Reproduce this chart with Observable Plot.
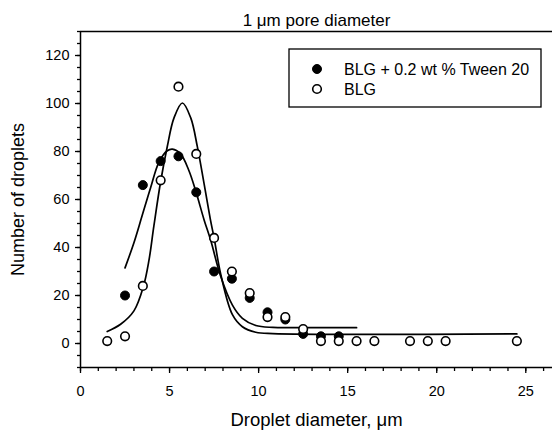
<!DOCTYPE html>
<html><head><meta charset="utf-8">
<script src="https://cdn.jsdelivr.net/npm/d3@7"></script>
<script src="https://cdn.jsdelivr.net/npm/@observablehq/plot@0.6"></script>
<style>body{margin:0;background:#fff}</style>
</head><body><div id="chart"></div>
<script>
const titleText = "1 \u03bcm pore diameter";
const xLabel = "Droplet diameter, \u03bcm";
const yLabel = "Number of droplets";
const seriesLabels = ["BLG + 0.2 wt % Tween 20", "BLG"];

const tweenX = [2.5, 3.5, 4.5, 5.5, 6.5, 7.5, 8.5, 9.5, 10.5, 11.5, 12.5, 13.5, 14.5];
const tweenY = [20, 66, 76, 78, 63, 30, 27, 19, 13, 10, 4, 3, 3];
const blgX = [1.5, 2.5, 3.5, 4.5, 5.5, 6.5, 7.5, 8.5, 9.5, 10.5, 11.5, 12.5, 13.5, 14.5, 15.5, 16.5, 18.5, 19.5, 20.5, 24.5];
const blgY = [1, 3, 24, 68, 107, 79, 44, 30, 21, 11, 11, 6, 1, 1, 1, 1, 1, 1, 1, 1];

const tweenFitX = [2.5, 3.0, 3.45, 3.94, 4.4, 4.87, 5.16, 5.62, 6.09, 6.47, 6.94, 7.31, 7.87, 8.53, 9.09, 9.84, 10.8, 12.0, 15.5];
const tweenFitY = [31.5, 42, 53, 65, 75.5, 80.3, 81, 79, 72, 63.5, 51.5, 43, 28, 16, 10.5, 7.5, 6.7, 6.6, 6.6];
const blgFitX = [1.5, 2.25, 3.0, 3.53, 3.84, 4.12, 4.5, 4.87, 5.25, 5.72, 6.19, 6.56, 6.94, 7.31, 7.5, 7.87, 8.53, 9.09, 9.84, 10.8, 24.5];
const blgFitY = [5, 8, 13.6, 23.7, 34.5, 49, 67.5, 82, 94, 100.2, 94, 82, 66.5, 51, 44, 29, 12, 7, 4.7, 4.1, 4.0];

const xTicks = [0, 5, 10, 15, 20, 25];
const yTicks = [0, 20, 40, 60, 80, 100, 120];
const xMinor = d3.range(0, 27, 1);
const yMinor = d3.range(-10, 131, 5);

const zip = (xs, ys) => xs.map((x, i) => ({x, y: ys[i]}));
const tween = zip(tweenX, tweenY);
const blg = zip(blgX, blgY);
const tweenFit = zip(tweenFitX, tweenFitY);
const blgFit = zip(blgFitX, blgFitY);

const font = "'Liberation Sans', Arial, sans-serif";

const chart = Plot.plot({
  width: 552,
  height: 432,
  marginLeft: 80,
  marginRight: 0,
  marginTop: 31,
  marginBottom: 65,
  style: {fontFamily: font, color: "#000", background: "#fff", overflow: "visible"},
  x: {domain: [0, 26.5], label: null},
  y: {domain: [-10, 130], label: null},
  marks: [
    Plot.axisX(xMinor, {tickSize: 4, tickFormat: () => "", strokeWidth: 1.3, label: null}),
    Plot.axisX(xTicks, {tickSize: 6, tickPadding: 12, fontSize: 14.5, strokeWidth: 1.3, label: null}),
    Plot.axisY(yMinor, {tickSize: 3, tickFormat: () => "", strokeWidth: 1.3, label: null}),
    Plot.axisY(yTicks, {tickSize: 5, tickPadding: 6, fontSize: 14.5, strokeWidth: 1.3, label: null}),
    Plot.ruleY([-10], {stroke: "#000", strokeWidth: 1.5}),
    Plot.ruleY([130], {stroke: "#000", strokeWidth: 1.5}),
    Plot.ruleX([0], {stroke: "#000", strokeWidth: 1.5}),
    Plot.line(tweenFit, {x: "x", y: "y", curve: "catmull-rom", stroke: "#000", strokeWidth: 1.7}),
    Plot.line(blgFit, {x: "x", y: "y", curve: "catmull-rom", stroke: "#000", strokeWidth: 1.7}),
    Plot.dot(tween, {x: "x", y: "y", r: 4.5, fill: "#000", stroke: "#000", strokeWidth: 1}),
    Plot.dot(blg, {x: "x", y: "y", r: 4.3, fill: "#fff", stroke: "#000", strokeWidth: 1.6}),
    Plot.text([titleText], {frameAnchor: "top", dy: -11, lineAnchor: "middle", fontSize: 17, fill: "#000"}),
    Plot.text([xLabel], {frameAnchor: "bottom", dy: 53, lineAnchor: "middle", fontSize: 18.5, fill: "#000"}),
    Plot.text([yLabel], {frameAnchor: "left", dx: -62, rotate: -90, lineAnchor: "middle", textAnchor: "middle", fontSize: 18, fill: "#000"})
  ]
});
document.getElementById("chart").appendChild(chart);

// legend
const svg = d3.select(chart);
const lg = svg.append("g").attr("font-family", font).attr("font-size", 16).attr("text-anchor", "start");
lg.append("rect").attr("x", 289).attr("y", 49).attr("width", 252).attr("height", 58)
  .attr("fill", "#fff").attr("stroke", "#000").attr("stroke-width", 1.3);
const styles = [{fill: "#000", r: 4.5, sw: 1}, {fill: "#fff", r: 4.3, sw: 1.6}];
seriesLabels.forEach((lab, i) => {
  const cy = 69 + i * 20;
  lg.append("circle").attr("cx", 317).attr("cy", cy).attr("r", styles[i].r)
    .attr("fill", styles[i].fill).attr("stroke", "#000").attr("stroke-width", styles[i].sw);
  lg.append("text").attr("x", 344).attr("y", cy).attr("dy", "0.35em")
    .attr("text-anchor", "start").attr("fill", "#000").text(lab);
});
</script>
</body></html>
